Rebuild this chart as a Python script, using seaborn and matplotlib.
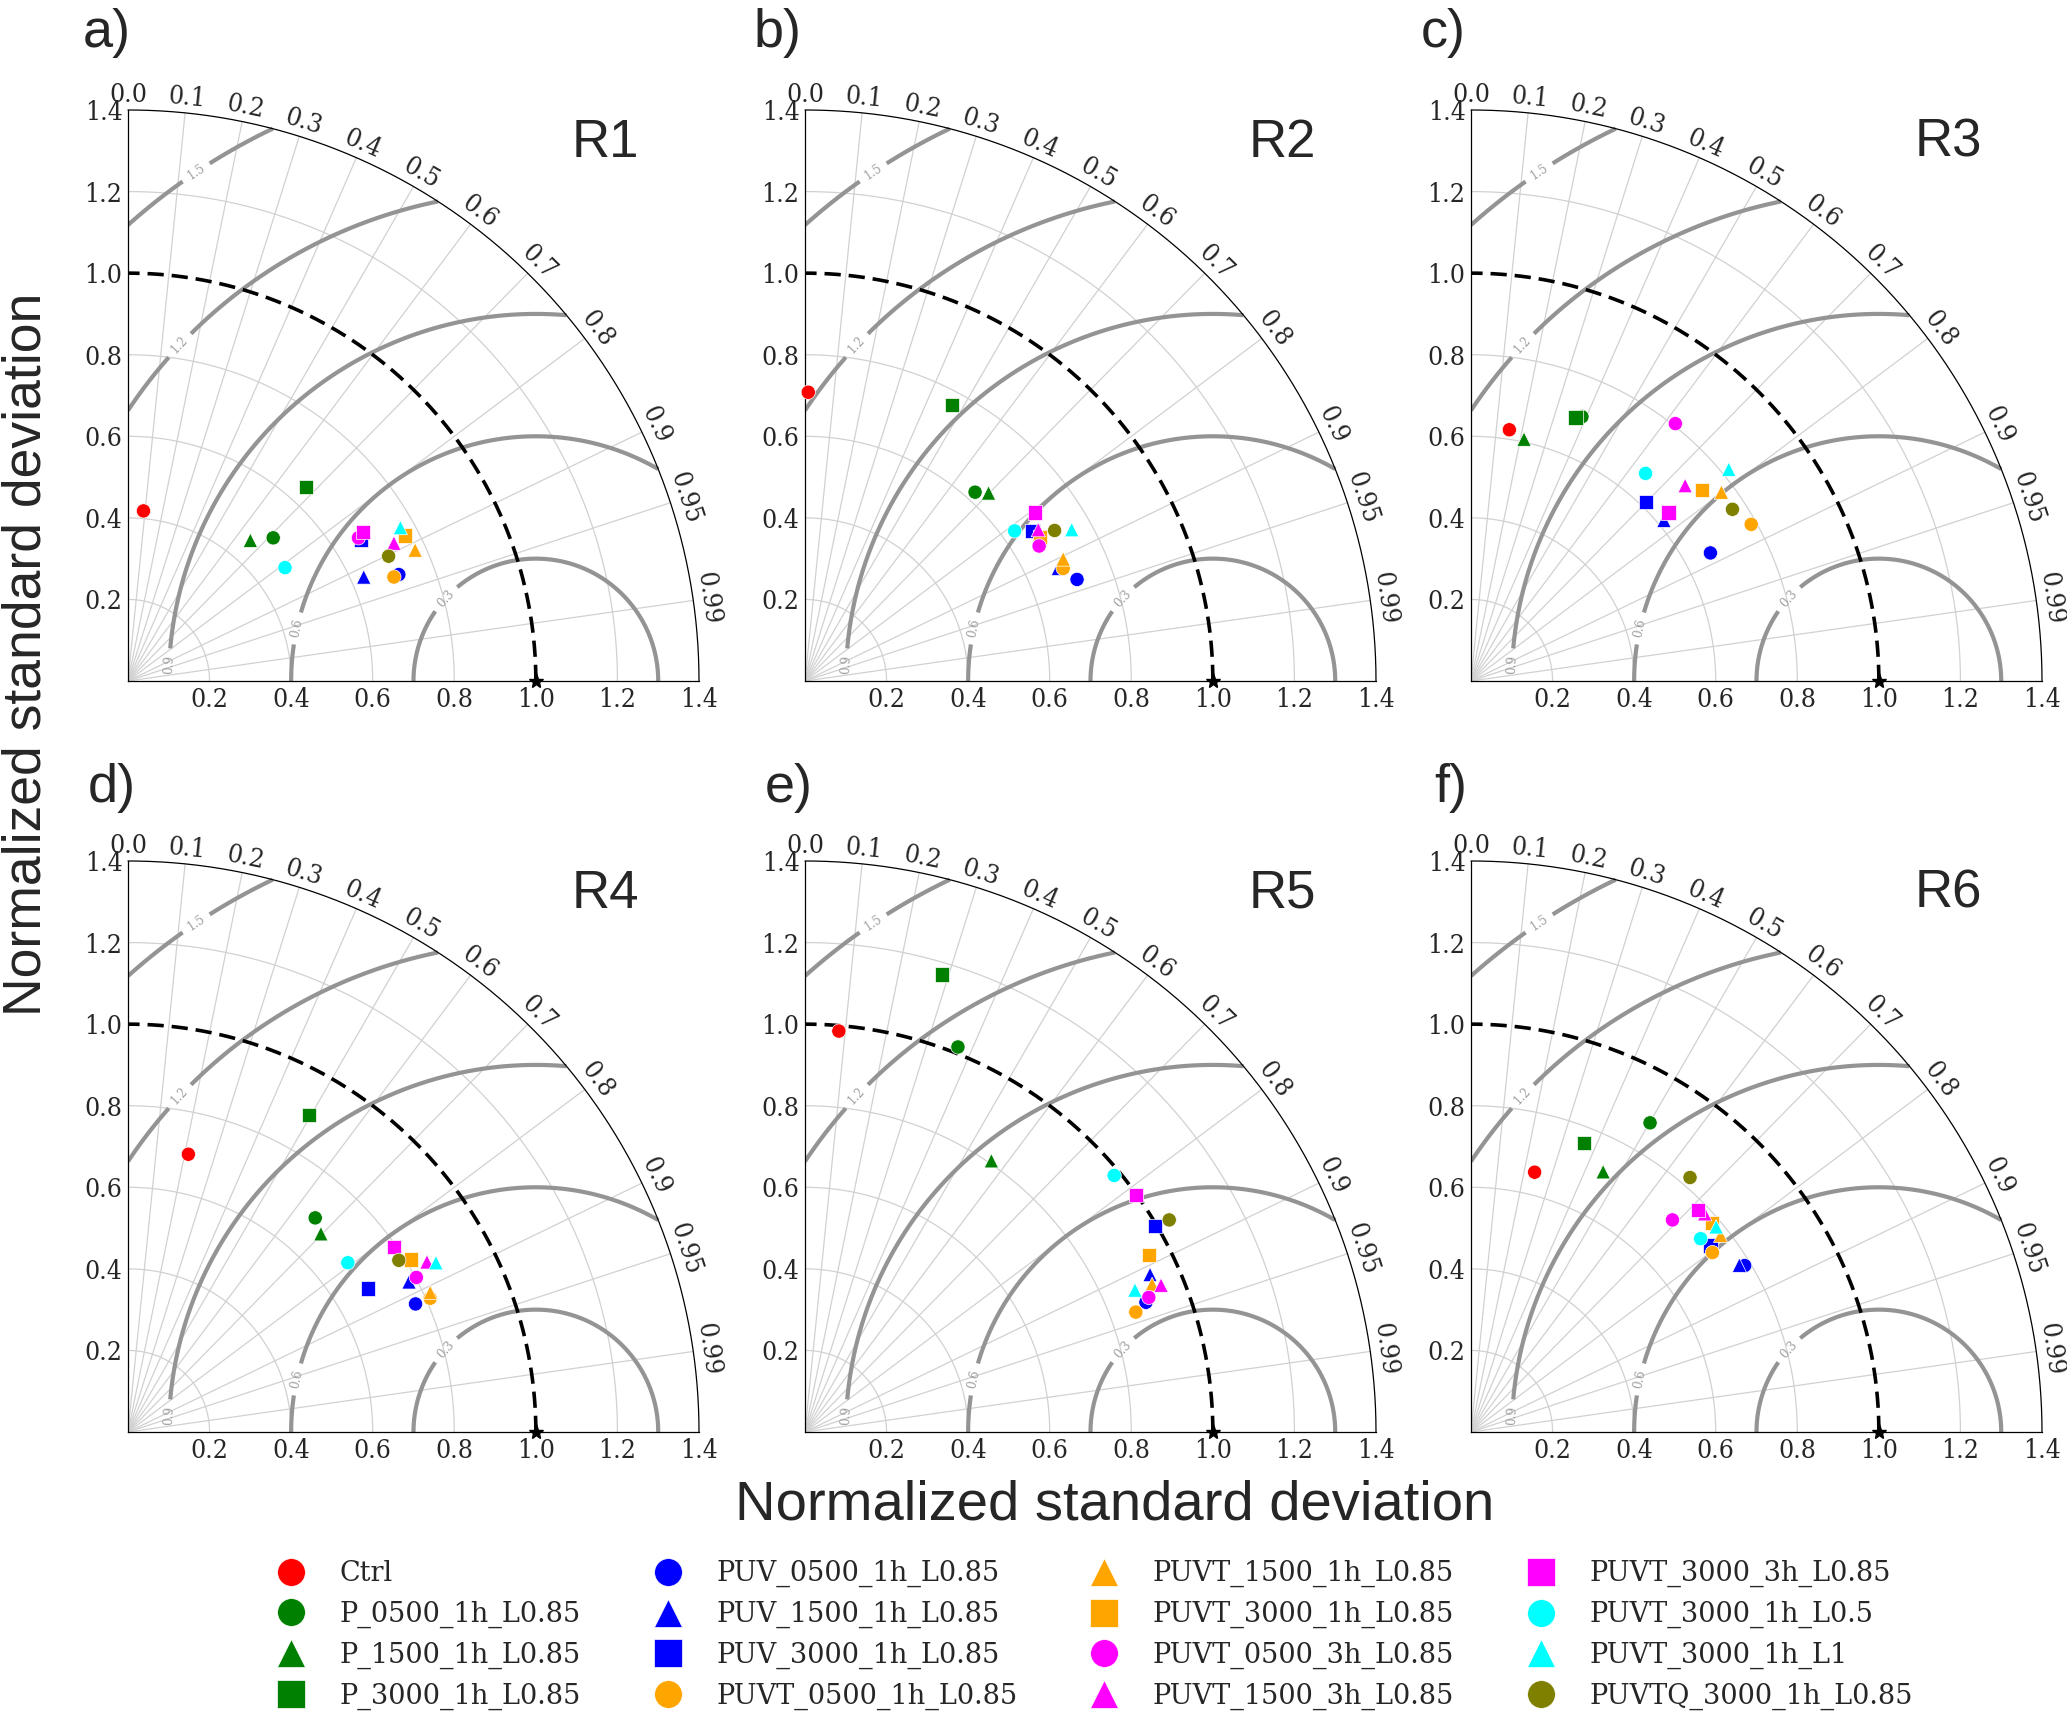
import numpy as np
import pandas as pd
import matplotlib
matplotlib.use("Agg")
import matplotlib.pyplot as plt
from matplotlib.lines import Line2D
import seaborn as sns

# ---------------- data ----------------
experiments = ["Ctrl", "P_0500_1h_L0.85", "P_1500_1h_L0.85", "P_3000_1h_L0.85",
               "PUV_0500_1h_L0.85", "PUV_1500_1h_L0.85", "PUV_3000_1h_L0.85",
               "PUVT_0500_1h_L0.85", "PUVT_1500_1h_L0.85", "PUVT_3000_1h_L0.85",
               "PUVT_0500_3h_L0.85", "PUVT_1500_3h_L0.85", "PUVT_3000_3h_L0.85",
               "PUVT_3000_1h_L0.5", "PUVT_3000_1h_L1", "PUVTQ_3000_1h_L0.85"]
exp_colors = ["red", "green", "green", "green", "blue", "blue", "blue",
              "orange", "orange", "orange", "magenta", "magenta", "magenta",
              "cyan", "cyan", "olive"]
exp_markers = ["o", "o", "^", "s", "o", "^", "s", "o", "^", "s",
               "o", "^", "s", "o", "^", "o"]

regions = ["R1", "R2", "R3", "R4", "R5", "R6"]
panel_letters = ["a)", "b)", "c)", "d)", "e)", "f)"]

# normalized std components: x = sigma*R, y = sigma*sqrt(1-R^2)  (experiment order)
r1_x = [0.038, 0.356, 0.300, 0.436, 0.664, 0.578, 0.571, 0.652, 0.704, 0.680, 0.565, 0.652, 0.576, 0.385, 0.668, 0.639]
r1_y = [0.417, 0.351, 0.345, 0.475, 0.261, 0.255, 0.345, 0.255, 0.321, 0.357, 0.351, 0.338, 0.365, 0.278, 0.376, 0.306]
r2_x = [0.008, 0.417, 0.450, 0.360, 0.667, 0.621, 0.558, 0.633, 0.633, 0.576, 0.574, 0.572, 0.564, 0.514, 0.654, 0.612]
r2_y = [0.708, 0.463, 0.461, 0.677, 0.249, 0.276, 0.368, 0.276, 0.299, 0.353, 0.331, 0.371, 0.413, 0.368, 0.371, 0.369]
r3_x = [0.094, 0.272, 0.130, 0.256, 0.587, 0.473, 0.429, 0.687, 0.614, 0.566, 0.501, 0.525, 0.484, 0.428, 0.632, 0.641]
r3_y = [0.616, 0.648, 0.593, 0.646, 0.314, 0.394, 0.438, 0.384, 0.463, 0.468, 0.631, 0.479, 0.413, 0.509, 0.519, 0.421]
r4_x = [0.148, 0.459, 0.473, 0.443, 0.705, 0.689, 0.589, 0.741, 0.741, 0.694, 0.707, 0.733, 0.652, 0.539, 0.755, 0.664]
r4_y = [0.681, 0.525, 0.486, 0.778, 0.314, 0.368, 0.352, 0.328, 0.342, 0.423, 0.379, 0.417, 0.454, 0.415, 0.415, 0.421]
r5_x = [0.083, 0.375, 0.457, 0.335, 0.836, 0.846, 0.858, 0.811, 0.851, 0.844, 0.843, 0.873, 0.811, 0.758, 0.809, 0.893]
r5_y = [0.983, 0.944, 0.665, 1.122, 0.318, 0.386, 0.506, 0.294, 0.362, 0.434, 0.330, 0.360, 0.581, 0.629, 0.348, 0.520]
r6_x = [0.156, 0.439, 0.324, 0.277, 0.671, 0.658, 0.587, 0.592, 0.612, 0.590, 0.494, 0.573, 0.557, 0.563, 0.601, 0.537]
r6_y = [0.637, 0.758, 0.638, 0.708, 0.408, 0.409, 0.457, 0.440, 0.482, 0.513, 0.520, 0.535, 0.545, 0.474, 0.503, 0.624]

region_x = [r1_x, r2_x, r3_x, r4_x, r5_x, r6_x]
region_y = [r1_y, r2_y, r3_y, r4_y, r5_y, r6_y]

corr_ticks = [0.0, 0.1, 0.2, 0.3, 0.4, 0.5, 0.6, 0.7, 0.8, 0.9, 0.95, 0.99]
std_ticks = [0.2, 0.4, 0.6, 0.8, 1.0, 1.2, 1.4]
rms_levels = [0.3, 0.6, 0.9, 1.2, 1.5]

frames = []
for reg, xs, ys in zip(regions, region_x, region_y):
    frames.append(pd.DataFrame({"region": reg, "experiment": experiments, "x": xs, "y": ys}))
df = pd.concat(frames, ignore_index=True)

palette = dict(zip(experiments, exp_colors))
marker_map = dict(zip(experiments, exp_markers))

# ---------------- style ----------------
sns.set_theme(style="white")
plt.rcParams["font.family"] = ["DejaVu Serif"]
SANS = ["Liberation Sans", "DejaVu Sans"]

W, H = 2067, 1716
fig = plt.figure(figsize=(W / 100, H / 100), dpi=100)

col_left = [128, 805, 1471]
row_origin = [681, 1432]
size = 571
label_x = [83, 754, 1421, 88, 765, 1434]
label_y = [33, 33, 33, 788, 788, 788]

SMAX = 1.4
rs = np.linspace(0, SMAX, 400)
ts = np.linspace(0, np.pi / 2, 400)
RR, TT = np.meshgrid(rs, ts)
XX = RR * np.cos(TT)
YY = RR * np.sin(TT)
ZZ = np.sqrt(1 + RR ** 2 - 2 * RR * np.cos(TT))

for i, reg in enumerate(regions):
    r, c = divmod(i, 3)
    left = col_left[c] / W
    bottom = 1 - row_origin[r] / H
    ax = fig.add_axes([left, bottom, size / W, size / H])
    ax.set_xlim(0, SMAX)
    ax.set_ylim(0, SMAX)
    ax.set_aspect("equal")

    # std grid arcs
    th = np.linspace(0, np.pi / 2, 300)
    for s_ in std_ticks[:-1]:
        if s_ == 1.0:
            continue
        ax.plot(s_ * np.cos(th), s_ * np.sin(th), color="0.82", lw=0.9, zorder=1)
    # correlation grid rays
    for cc in corr_ticks[1:]:
        t = np.arccos(cc)
        ax.plot([0, SMAX * np.cos(t)], [0, SMAX * np.sin(t)], color="0.82", lw=0.9, zorder=1)

    # RMS contours
    cs = ax.contour(XX, YY, ZZ, levels=rms_levels, colors="0.58", linewidths=3.0, zorder=2)
    ax.clabel(cs, inline=True, fontsize=8.5, fmt="%.1f", colors="0.62", inline_spacing=7,
              manual=[(0.77, 0.21), (0.41, 0.13), (0.10, 0.04), (0.13, 0.82), (0.165, 1.25)])

    # reference std = 1 dashed arc
    ax.plot(np.cos(th), np.sin(th), color="black", lw=2.6, ls=(0, (4.5, 2.2)), zorder=3)

    # outer arc frame
    ax.plot(SMAX * np.cos(th), SMAX * np.sin(th), color="black", lw=0.9, zorder=4, clip_on=False)

    # reference point
    ax.plot([1.0], [0.0], marker="*", color="black", ms=11, ls="none", zorder=6, clip_on=False)

    sub = df[df["region"] == reg]
    sns.scatterplot(data=sub, x="x", y="y", hue="experiment", style="experiment",
                    hue_order=experiments, style_order=experiments,
                    palette=palette, markers=marker_map, s=105,
                    edgecolor="white", linewidth=0.5, legend=False, ax=ax,
                    zorder=5, clip_on=False)

    ax.set_xlim(0, SMAX)
    ax.set_ylim(0, SMAX)
    ax.set_xlabel("")
    ax.set_ylabel("")
    for side in ["top", "right"]:
        ax.spines[side].set_visible(False)
    for side in ["left", "bottom"]:
        ax.spines[side].set_color("black")
        ax.spines[side].set_linewidth(0.9)
    ax.set_xticks(std_ticks)
    ax.set_yticks(std_ticks)
    ax.set_xticklabels([f"{v:.1f}" for v in std_ticks])
    ax.set_yticklabels([f"{v:.1f}" for v in std_ticks])
    ax.tick_params(length=0, pad=4, labelsize=19)
    for lab in ax.get_xticklabels() + ax.get_yticklabels():
        lab.set_family("DejaVu Serif")
        lab.set_stretch("condensed")

    # correlation labels
    for cc in corr_ticks:
        t = np.arccos(cc)
        rr = SMAX + 0.008
        ax.text(rr * np.cos(t), rr * np.sin(t), f"{cc}", rotation=np.degrees(t) - 90,
                rotation_mode="anchor", ha="center", va="bottom", fontsize=19,
                family="DejaVu Serif", fontstretch="condensed", clip_on=False)

    ax.text(1.17, 1.32, reg, ha="center", va="center", fontsize=38, family=SANS)
    fig.text(label_x[i] / W, 1 - label_y[i] / H, panel_letters[i], ha="left", va="center",
             fontsize=39, family=SANS)

fig.text(27 / W, 1 - 654 / H, "Normalized standard deviation", rotation=90,
         ha="center", va="center", fontsize=38.5, family=SANS)
fig.text(1115 / W, 1 - 1520 / H, "Normalized standard deviation", ha="center",
         va="baseline", fontsize=40.5, family=SANS)

handles = [Line2D([], [], ls="none", marker=m, color=col, markersize=20,
                  markeredgecolor="white", markeredgewidth=0.5)
           for m, col in zip(exp_markers, exp_colors)]
fig.legend(handles, experiments, loc="upper center", bbox_to_anchor=(0.5266, 0.105),
           ncol=4, frameon=False, columnspacing=2.2,
           handletextpad=0.8, handlelength=2.0, prop={"family": "DejaVu Serif", "size": 19.5})

fig.savefig("out.png", dpi=100)
